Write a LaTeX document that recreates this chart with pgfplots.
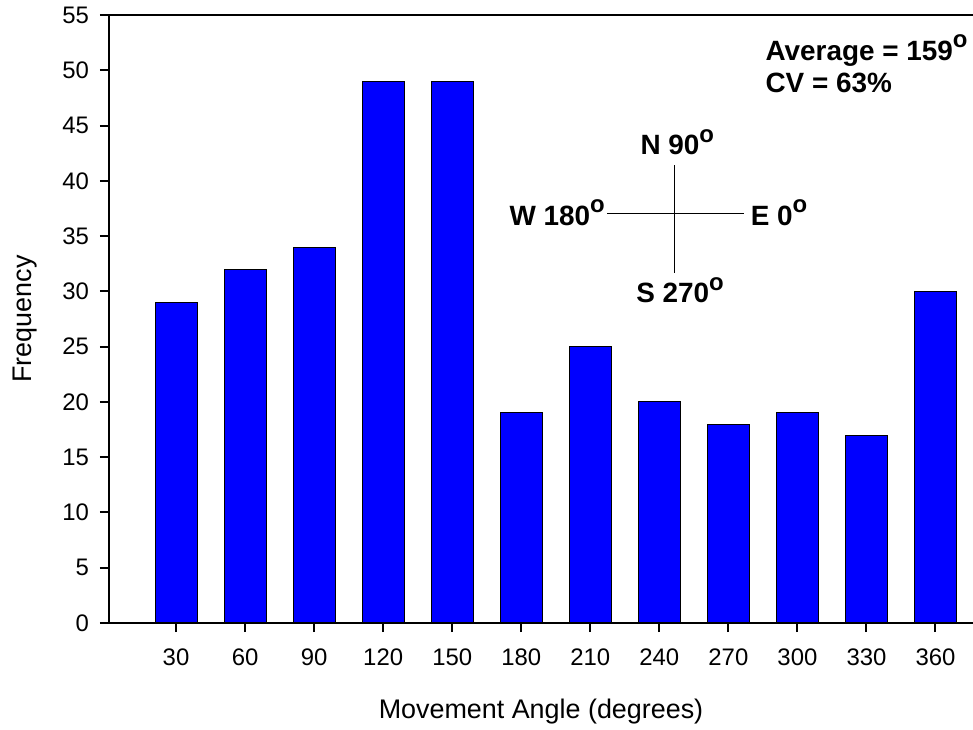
\documentclass[border=0pt]{standalone}
\usepackage{fontspec}
\setmainfont{Liberation Sans}
\usepackage{pgfplots}
\pgfplotsset{compat=1.18}

\newcommand{\dego}{\raisebox{0.46em}{\fontsize{12}{12}\selectfont o}}

\begin{document}
\begin{tikzpicture}
\begin{axis}[
    name=ax,
    scale only axis,
    width=432bp, height=304bp,
    xmin=0.87, xmax=376.3,
    ymin=0, ymax=55,
    xtick={30,60,...,360},
    ytick={0,5,...,55},
    tick pos=left,
    tick align=outside,
    major tick length=4.5bp,
    tick style={black, line width=1bp},
    axis line style={draw=none},
    /pgf/number format/assume math mode=true,
    ticklabel style={font=\fontsize{12}{14}\selectfont},
    yticklabel style={xshift=-2bp},
    xticklabel style={yshift=-5bp},
    xlabel={Movement Angle (degrees)},
    ylabel={Frequency},
    label style={font=\fontsize{13.5}{15}\selectfont},
    xlabel style={at={(axis description cs:0.5,-0.15625)}, anchor=base},
    ylabel style={at={(axis description cs:-0.0972,0.5)}, anchor=center},
    clip=false,
]
\addplot[ybar, bar width=18.25, fill=blue, draw=black, line width=0.5bp] coordinates {
    (30,29)(60,32)(90,34)(120,49)(150,49)(180,19)
    (210,25)(240,20)(270,18)(300,19)(330,17)(360,30)
};

% axis frame: left, bottom, top
\draw[line width=1bp] (rel axis cs:1,1) -- (rel axis cs:0,1) -- (rel axis cs:0,0) -- (rel axis cs:1,0);

% summary text
\node[anchor=base west, inner sep=0, font=\bfseries\fontsize{14}{16}\selectfont]
    at (axis cs:286,50.9) {Average = 159\dego};
\node[anchor=base west, inner sep=0, font=\bfseries\fontsize{14}{16}\selectfont]
    at (axis cs:286,48.0) {CV = 63\%};

% compass
\draw[line width=0.5bp] (axis cs:246.5,41.4) -- (axis cs:246.5,31.7);
\draw[line width=0.5bp] (axis cs:217.4,37) -- (axis cs:277,37);
\begin{scope}[every node/.style={inner sep=0, font=\bfseries\fontsize{14}{16}\selectfont}]
\node[anchor=base] at (axis cs:247.8,42.35) {N 90\dego};
\node[anchor=base east] at (axis cs:216.5,36.0) {W 180\dego};
\node[anchor=base west] at (axis cs:279.6,36.0) {E 0\dego};
\node[anchor=base] at (axis cs:249,28.96) {S 270\dego};
\end{scope}
\end{axis}
\pgfresetboundingbox
\path[use as bounding box] ([shift={(-54.5bp,-53.5bp)}]ax.south west) rectangle ([shift={(0bp,7.5bp)}]ax.north east);
\end{tikzpicture}
\end{document}
